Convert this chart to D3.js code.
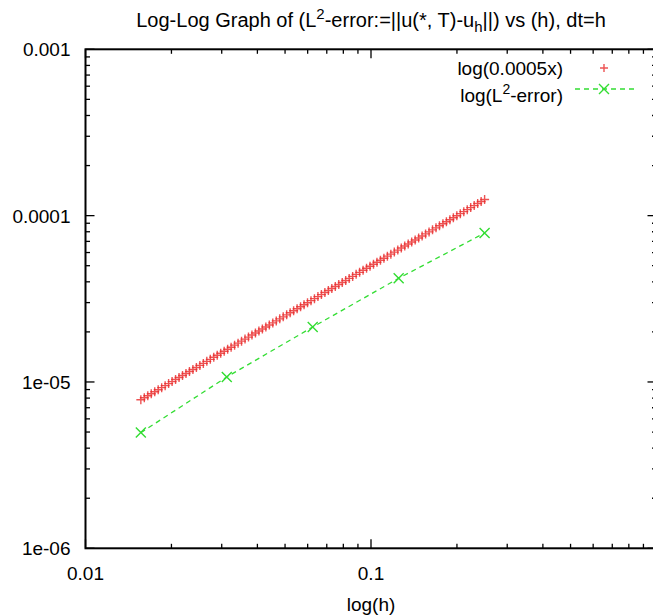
<!DOCTYPE html>
<html><head><meta charset="utf-8">
<script src="https://cdn.jsdelivr.net/npm/d3@7"></script>
<style>body{margin:0;background:#fff}svg{display:block}text{font-family:"Liberation Sans",Arial,sans-serif;fill:#000}</style>
</head><body><svg id="c" width="653" height="615"></svg>
<script>
// ---- data ----
const titleParts = ["Log-Log Graph of (L", "2", "-error:=||u(*, T)-u", "h", "||) vs (h), dt=h"];
const xLabel = "log(h)";
const xTickLabels = ["0.01", "0.1"];
const yTickLabels = ["1e-06", "1e-05", "0.0001", "0.001"];
const legendLabels = ["log(0.0005x)", "log(L2-error)"];
// sampled reference function (red +)
const refH = [0.015625,0.016069,0.016525,0.016995,0.017478,0.017974,0.018484,0.019009,0.019549,0.020105,
0.020676,0.021263,0.021867,0.022488,0.023126,0.023783,0.024459,0.025153,0.025868,0.026603,
0.027358,0.028135,0.028934,0.029756,0.030601,0.031470,0.032364,0.033283,0.034229,0.035201,
0.036201,0.037229,0.038286,0.039374,0.040492,0.041642,0.042825,0.044041,0.045292,0.046578,
0.047901,0.049262,0.050661,0.052100,0.053579,0.055101,0.056666,0.058275,0.059931,0.061633,
0.063383,0.065183,0.067035,0.068939,0.070897,0.072910,0.074981,0.077111,0.079301,0.081553,
0.083869,0.086251,0.088701,0.091220,0.093811,0.096475,0.099216,0.10203,0.10493,0.10791,
0.11098,0.11413,0.11737,0.12070,0.12413,0.12766,0.13128,0.13501,0.13885,0.14279,
0.14685,0.15102,0.15531,0.15972,0.16425,0.16892,0.17371,0.17865,0.18372,0.18894,
0.19431,0.19983,0.20550,0.21134,0.21734,0.22351,0.22986,0.23639,0.24310,0.25000];
const refErr = [7.813e-6,8.035e-6,8.263e-6,8.497e-6,8.739e-6,8.987e-6,9.242e-6,9.505e-6,9.775e-6,1.0052e-5,
1.0338e-5,1.0631e-5,1.0933e-5,1.1244e-5,1.1563e-5,1.1892e-5,1.2229e-5,1.2577e-5,1.2934e-5,1.3301e-5,
1.3679e-5,1.4068e-5,1.4467e-5,1.4878e-5,1.5301e-5,1.5735e-5,1.6182e-5,1.6642e-5,1.7114e-5,1.7600e-5,
1.8100e-5,1.8614e-5,1.9143e-5,1.9687e-5,2.0246e-5,2.0821e-5,2.1412e-5,2.2020e-5,2.2646e-5,2.3289e-5,
2.3951e-5,2.4631e-5,2.5330e-5,2.6050e-5,2.6790e-5,2.7551e-5,2.8333e-5,2.9138e-5,2.9965e-5,3.0816e-5,
3.1692e-5,3.2592e-5,3.3517e-5,3.4469e-5,3.5448e-5,3.6455e-5,3.7490e-5,3.8555e-5,3.9650e-5,4.0776e-5,
4.1935e-5,4.3126e-5,4.4350e-5,4.5610e-5,4.6906e-5,4.8238e-5,4.9608e-5,5.1017e-5,5.2466e-5,5.3956e-5,
5.5488e-5,5.7064e-5,5.8685e-5,6.0352e-5,6.2066e-5,6.3829e-5,6.5641e-5,6.7506e-5,6.9423e-5,7.1395e-5,
7.3423e-5,7.5508e-5,7.7653e-5,7.9858e-5,8.2126e-5,8.4459e-5,8.6857e-5,8.9324e-5,9.1861e-5,9.4470e-5,
9.7153e-5,9.9913e-5,1.0275e-4,1.0567e-4,1.0867e-4,1.1176e-4,1.1493e-4,1.1819e-4,1.2155e-4,1.2500e-4];
// measured L2 error (green x)
const errH = [0.015625, 0.03125, 0.0625, 0.125, 0.25];
const errL2 = [4.96e-6, 1.071e-5, 2.14e-5, 4.20e-5, 7.86e-5];

// ---- layout ----
const L = 85.5, R = 656.5, T = 49.3, B = 548.3;
const FS = 19;
const svg = d3.select("#c");
const x = d3.scaleLog().domain([0.01, 1]).range([L, R]);
const y = d3.scaleLog().domain([1e-6, 1e-3]).range([B, T]);
const isMajor = v => Math.abs(Math.log10(v) - Math.round(Math.log10(v))) < 1e-9;

// ticks (inward, mirrored)
const tg = svg.append("g").attr("stroke", "#000").attr("stroke-width", 1.3);
x.ticks().forEach(v => {
  const len = isMajor(v) ? 9 : 4.5, px = x(v);
  tg.append("line").attr("x1", px).attr("x2", px).attr("y1", B).attr("y2", B - len);
  tg.append("line").attr("x1", px).attr("x2", px).attr("y1", T).attr("y2", T + len);
});
y.ticks().forEach(v => {
  const len = isMajor(v) ? 9 : 4.5, py = y(v);
  tg.append("line").attr("x1", L).attr("x2", L + len).attr("y1", py).attr("y2", py);
  tg.append("line").attr("x1", R).attr("x2", R - len).attr("y1", py).attr("y2", py);
});
svg.append("rect").attr("x", L).attr("y", T).attr("width", R - L).attr("height", B - T)
  .attr("fill", "none").attr("stroke", "#000").attr("stroke-width", 2);

// tick labels
const xMaj = x.ticks().filter(isMajor);
svg.selectAll(".xl").data(xTickLabels).join("text")
  .attr("x", (d, i) => x(xMaj[i])).attr("y", B + 32).attr("text-anchor", "middle")
  .attr("font-size", FS).text(d => d);
const yMaj = y.ticks().filter(isMajor);
svg.selectAll(".yl").data(yTickLabels).join("text")
  .attr("x", L - 15).attr("y", (d, i) => y(yMaj[i]) + 7).attr("text-anchor", "end")
  .attr("font-size", FS).text(d => d);

// axis label
svg.append("text").attr("x", (L + R) / 2).attr("y", 611).attr("text-anchor", "middle")
  .attr("font-size", FS).text(xLabel);

// title
const tt = svg.append("text").attr("x", (L + R) / 2).attr("y", 27).attr("text-anchor", "middle").attr("font-size", 20);
tt.append("tspan").text(titleParts[0]);
tt.append("tspan").attr("dy", -8).attr("font-size", 15).text(titleParts[1]);
tt.append("tspan").attr("dy", 8).text(titleParts[2]);
tt.append("tspan").attr("dy", 5).attr("font-size", 15).text(titleParts[3]);
tt.append("tspan").attr("dy", -5).text(titleParts[4]);

svg.append("clipPath").attr("id", "pc").append("rect")
  .attr("x", L).attr("y", T).attr("width", R - L).attr("height", B - T);
const plot = svg.append("g").attr("clip-path", "url(#pc)");

// red plus marks
const red = "#e82828";
const plus = (g, cx, cy, s) => g.append("path")
  .attr("d", `M${cx - s},${cy}H${cx + s}M${cx},${cy - s}V${cy + s}`)
  .attr("stroke", red).attr("stroke-width", 1.4).attr("fill", "none").attr("opacity", 0.8);
refH.forEach((h, i) => plus(plot, x(h), y(refErr[i]), 4.5));

// green dashed line + x marks
const green = "#33dd33";
const line = d3.line().x(d => x(d[0])).y(d => y(d[1]));
plot.append("path").datum(errH.map((h, i) => [h, errL2[i]])).attr("d", line)
  .attr("fill", "none").attr("stroke", green).attr("stroke-width", 1.3).attr("stroke-dasharray", "5,4");
const cross = (g, cx, cy, s) => g.append("path")
  .attr("d", `M${cx - s},${cy - s}L${cx + s},${cy + s}M${cx - s},${cy + s}L${cx + s},${cy - s}`)
  .attr("stroke", green).attr("stroke-width", 1.4).attr("fill", "none");
errH.forEach((h, i) => cross(plot, x(h), y(errL2[i]), 5));

// legend
const lx = 563;
svg.append("text").attr("x", lx).attr("y", 75).attr("text-anchor", "end").attr("font-size", FS).text(legendLabels[0]);
const l2 = svg.append("text").attr("x", lx).attr("y", 102).attr("text-anchor", "end").attr("font-size", FS);
l2.append("tspan").text("log(L");
l2.append("tspan").attr("dy", -8).attr("font-size", 14).text("2");
l2.append("tspan").attr("dy", 8).text("-error)");
plus(svg, 604, 68, 4);
svg.append("line").attr("x1", 575).attr("x2", 634).attr("y1", 89).attr("y2", 89)
  .attr("stroke", green).attr("stroke-width", 1.3).attr("stroke-dasharray", "5,4");
cross(svg, 604, 89, 5);
</script></body></html>
